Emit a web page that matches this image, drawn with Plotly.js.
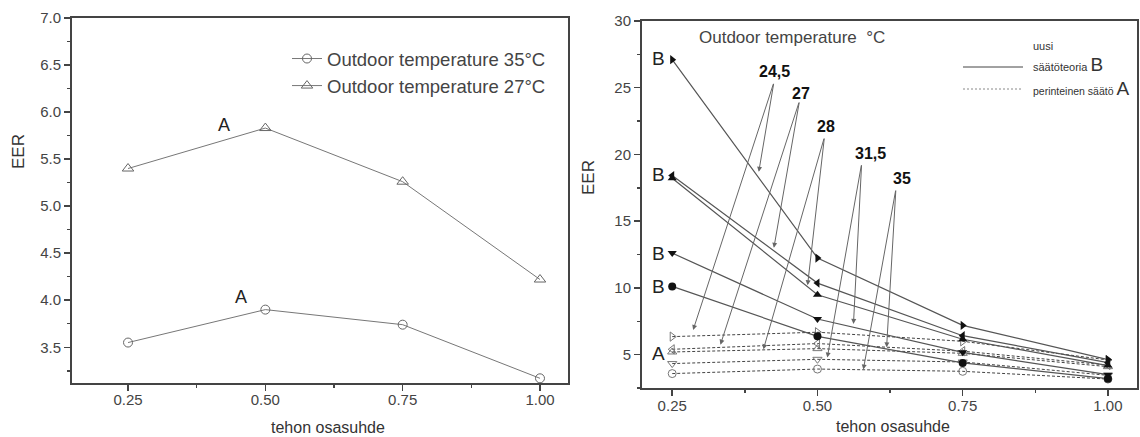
<!DOCTYPE html>
<html><head><meta charset="utf-8">
<script src="https://cdn.plot.ly/plotly-3.0.1.min.js"></script>
<style>html,body{margin:0;padding:0;background:#fff}#chart{width:1140px;height:437px}</style>
</head><body><div id="chart"></div>
<script>
// ---- data ----
const loadRatio = [0.25, 0.50, 0.75, 1.00];
const xTickVals = [0.25, 0.50, 0.75, 1.00];

// left panel
const eer35Left = [3.55, 3.90, 3.74, 3.17];
const eer27Left = [5.40, 5.83, 5.26, 4.22];
const leftNames = ['Outdoor temperature 35°C', 'Outdoor temperature 27°C'];

// right panel: temperatures
const temps = ['24,5', '27', '28', '31,5', '35'];
// B = uusi säätöteoria (solid)
const newB245 = [27.10, 12.24, 7.19, 4.63];
const newB27  = [18.42, 10.36, 6.42, 4.40];
const newB28  = [18.22, 9.49, 6.15, 4.18];
const newB315 = [12.61, 7.67, 5.17, 3.50];
const newB35  = [10.11, 6.37, 4.38, 3.20];
// A = perinteinen säätö (dashed)
const oldA245 = [6.35, 6.68, 6.00, 4.60];
const oldA27  = [5.40, 5.83, 5.26, 4.22];
const oldA28  = [5.20, 5.45, 5.10, 4.10];
const oldA315 = [4.33, 4.65, 4.45, 3.45];
const oldA35  = [3.58, 3.92, 3.75, 3.17];

// ---- layout helpers ----
const W = 1140, H = 437;
const px = v => v / W;
const py = v => 1 - v / H;
const FONT = 'Liberation Sans, Arial, sans-serif';
const NARROW = 'Liberation Sans Narrow, Arial Narrow, Liberation Sans, sans-serif';

const newB = [newB245, newB27, newB28, newB315, newB35];
const oldA = [oldA245, oldA27, oldA28, oldA315, oldA35];
const symbols = ['triangle-right', 'triangle-left', 'triangle-up', 'triangle-down', 'circle'];

const traces = [];
traces.push({
  x: loadRatio, y: eer35Left, name: leftNames[0], mode: 'lines+markers', xaxis: 'x', yaxis: 'y',
  line: {color: '#777', width: 1}, marker: {symbol: 'circle-open', size: 9, color: '#666', line: {width: 1}}
});
traces.push({
  x: loadRatio, y: eer27Left, name: leftNames[1], mode: 'lines+markers', xaxis: 'x', yaxis: 'y',
  line: {color: '#777', width: 1}, marker: {symbol: 'triangle-up-open', size: 10, color: '#666', line: {width: 1}}
});
oldA.forEach((s, i) => traces.push({
  x: loadRatio, y: s, name: 'A ' + temps[i], mode: 'lines+markers', xaxis: 'x2', yaxis: 'y2', showlegend: false,
  line: {color: '#444', width: 1, dash: '3px,2px'},
  marker: {symbol: symbols[i] + '-open', size: 8, color: '#777', line: {width: 1}}
}));
newB.forEach((s, i) => traces.push({
  x: loadRatio, y: s, name: 'B ' + temps[i], mode: 'lines+markers', xaxis: 'x2', yaxis: 'y2', showlegend: false,
  line: {color: '#555', width: 1.2},
  marker: {symbol: symbols[i], size: 8, color: '#111'}
}));

const axBase = {
  showline: true, linecolor: '#444', linewidth: 2, mirror: true,
  ticks: 'outside', ticklen: 6, tickwidth: 1.5, tickcolor: '#444',
  showgrid: false, zeroline: false,
  tickfont: {family: FONT, size: 15, color: '#444'}
};
const minorBase = {ticks: 'outside', ticklen: 3, tickwidth: 1.5, tickcolor: '#444', showgrid: false};

// arrows in the right panel (label position, tail, two heads)
const labelX = [0.426, 0.472, 0.515, 0.591, 0.645];
const labelY = [26.2, 24.6, 22.1, 20.1, 18.2];
const tailX = [0.425, 0.469, 0.512, 0.576, 0.635];
const tailY = [25.4, 24.0, 21.3, 19.3, 17.4];
const headAX = [0.286, 0.333, 0.407, 0.517, 0.579];
const headAY = [6.85, 5.75, 5.40, 4.78, 3.88];
const headBX = [0.399, 0.425, 0.483, 0.562, 0.619];
const headBY = [18.7, 13.0, 10.2, 7.3, 5.55];

const annotations = [];
function note(o) { annotations.push(Object.assign({showarrow: false, xanchor: 'center', yanchor: 'middle'}, o)); }
temps.forEach((t, i) => {
  note({x: labelX[i], y: labelY[i], xref: 'x2', yref: 'y2', text: '<b>' + t + '</b>',
    font: {family: NARROW, size: 16, color: '#111'}});
  [[headAX[i], headAY[i]], [headBX[i], headBY[i]]].forEach(h => annotations.push({
    x: h[0], y: h[1], ax: tailX[i], ay: tailY[i], xref: 'x2', yref: 'y2', axref: 'x2', ayref: 'y2',
    text: '', showarrow: true, arrowhead: 2, arrowsize: 1, arrowwidth: 1, arrowcolor: '#666', standoff: 0
  }));
});
// B / A markers at left of right panel
[[27.2, 'B'], [18.5, 'B'], [12.6, 'B'], [10.1, 'B'], [5.05, 'A']].forEach(p => note({
  x: 0.227, y: p[0], xref: 'x2', yref: 'y2', text: p[1], font: {family: FONT, size: 19, color: '#222'}
}));
// A labels on left
note({x: 0.425, y: 5.86, xref: 'x', yref: 'y', text: 'A', font: {family: NARROW, size: 18, color: '#222'}});
note({x: 0.456, y: 4.03, xref: 'x', yref: 'y', text: 'A', font: {family: NARROW, size: 18, color: '#222'}});
// axis titles
note({x: px(18), y: py(152), xref: 'paper', yref: 'paper', text: 'EER', textangle: -90, font: {family: FONT, size: 17, color: '#333'}});
note({x: px(588), y: py(178), xref: 'paper', yref: 'paper', text: 'EER', textangle: -90, font: {family: FONT, size: 17, color: '#333'}});
note({x: px(328), y: py(427), xref: 'paper', yref: 'paper', text: 'tehon osasuhde', font: {family: FONT, size: 16, color: '#333'}});
note({x: px(893), y: py(426), xref: 'paper', yref: 'paper', text: 'tehon osasuhde', font: {family: FONT, size: 16, color: '#333'}});
// right panel header and legend
note({x: px(697), y: py(38), xref: 'paper', yref: 'paper', xanchor: 'left', text: 'Outdoor temperature  °C', font: {family: FONT, size: 17, color: '#444'}});
note({x: px(1031), y: py(46), xref: 'paper', yref: 'paper', xanchor: 'left', text: 'uusi', font: {family: NARROW, size: 11, color: '#333'}});
note({x: px(1031), y: py(65), xref: 'paper', yref: 'paper', xanchor: 'left', text: 'säätöteoria <span style="font-size:19px">B</span>', font: {family: NARROW, size: 11, color: '#333'}});
note({x: px(1031), y: py(88), xref: 'paper', yref: 'paper', xanchor: 'left', text: 'perinteinen säätö <span style="font-size:19px">A</span>', font: {family: NARROW, size: 10.5, color: '#333'}});

const shapes = [
  {type: 'line', xref: 'paper', yref: 'paper', x0: px(963), x1: px(1023), y0: py(67), y1: py(67), line: {color: '#444', width: 1}},
  {type: 'line', xref: 'paper', yref: 'paper', x0: px(963), x1: px(1023), y0: py(89), y1: py(89), line: {color: '#888', width: 1, dash: '2px,2px'}}
];

const layout = {
  width: W, height: H, margin: {l: 0, r: 0, t: 0, b: 0},
  paper_bgcolor: '#fff', plot_bgcolor: '#fff',
  font: {family: FONT, color: '#333'},
  showlegend: true,
  legend: {x: px(287), y: py(40), xanchor: 'left', yanchor: 'top', bgcolor: 'rgba(0,0,0,0)',
    font: {family: FONT, size: 18.5, color: '#444'}, tracegroupgap: 0},
  xaxis: Object.assign({}, axBase, {domain: [px(72), px(568)], range: [0.148, 1.051], anchor: 'y',
    tickmode: 'array', tickvals: xTickVals, tickformat: '.2f', ticklabelstandoff: -4,
    minor: Object.assign({}, minorBase, {tickmode: 'linear', tick0: 0.125, dtick: 0.125})}),
  yaxis: Object.assign({}, axBase, {domain: [py(383), py(18)], range: [3.12, 7.0], anchor: 'x',
    tickmode: 'linear', tick0: 3.5, dtick: 0.5, tickformat: '.1f',
    minor: Object.assign({}, minorBase, {tickmode: 'linear', tick0: 3.25, dtick: 0.25})}),
  xaxis2: Object.assign({}, axBase, {domain: [px(642), px(1137)], range: [0.198, 1.05], anchor: 'y2',
    tickmode: 'array', tickvals: xTickVals, tickformat: '.2f', ticklabelstandoff: -3,
    minor: Object.assign({}, minorBase, {tickmode: 'linear', tick0: 0.125, dtick: 0.125})}),
  yaxis2: Object.assign({}, axBase, {domain: [py(388), py(21)], range: [2.5, 30], anchor: 'x2',
    tickmode: 'linear', tick0: 0, dtick: 5,
    minor: Object.assign({}, minorBase, {tickmode: 'linear', tick0: 2.5, dtick: 2.5})}),
  annotations: annotations,
  shapes: shapes
};

Plotly.newPlot('chart', traces, layout, {displayModeBar: false, staticPlot: true});
</script></body></html>
